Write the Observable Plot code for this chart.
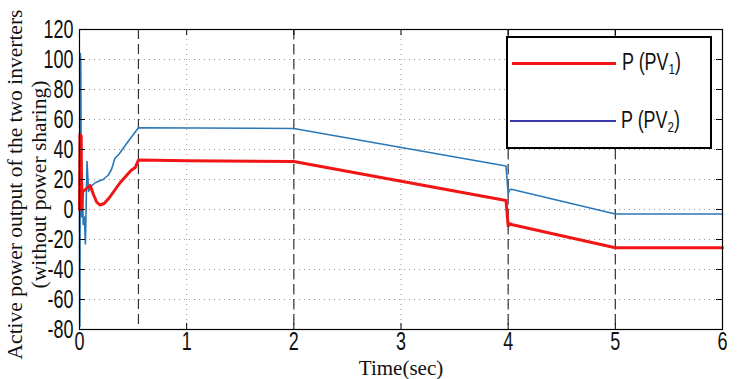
<!DOCTYPE html>
<html><head><meta charset="utf-8">
<script src="https://cdn.jsdelivr.net/npm/d3@7"></script>
<script src="https://cdn.jsdelivr.net/npm/@observablehq/plot@0.6"></script>
<style>
body{margin:0;background:#fff;}
#wrap{position:relative;width:741px;height:379px;overflow:hidden;}
#legend{position:absolute;left:506px;top:36px;width:202px;height:109px;border:2.5px solid #000;background:#fff;font-family:"Liberation Sans",Arial,sans-serif;font-size:23px;color:#111;}
.sw{position:absolute;}
.lt{position:absolute;line-height:1;white-space:nowrap;transform:scaleX(0.78);transform-origin:0 50%;}
.lt sub{font-size:0.65em;vertical-align:-0.25em;}
</style></head><body><div id="wrap"></div>
<script>
// P(PV1) – red series
const redT = [0, 0.004, 0.008, 0.012, 0.016, 0.02, 0.03, 0.05, 0.08, 0.1, 0.13, 0.16, 0.19, 0.23, 0.28, 0.33, 0.38, 0.43, 0.48, 0.52, 0.55, 1.0, 2.0, 3.98, 4.0, 4.02, 4.03, 5.0, 6.0];
const redV = [0, 50, 48, 2, 49, 0, 12, 13, 15, 16, 10, 5, 3, 4, 8, 13, 18, 22, 26, 28, 33, 32.5, 32, 6, -11, -9.5, -10, -25.5, -25.5];
// P(PV2) – blue series
const blueT = [0, 0.003, 0.008, 0.012, 0.016, 0.02, 0.025, 0.035, 0.045, 0.055, 0.07, 0.085, 0.1, 0.15, 0.22, 0.27, 0.3, 0.33, 0.37, 0.45, 0.55, 2.0, 3.98, 4.0, 4.01, 4.03, 5.0, 6.0];
const blueV = [0, -78, 104, 98, 20, -5, 25, -10, -5, -23, 32, 12, 15, 18, 20, 23, 27, 34, 37, 45, 54.5, 54, 29, 10, 13, 13.5, -3, -3];
const xTicks = [0, 1, 2, 3, 4, 5, 6];
const yTicks = [-80, -60, -40, -20, 0, 20, 40, 60, 80, 100, 120];
const eventTimes = [0.55, 2, 4, 5];
const xLabel = "Time(sec)";
const yLabel = "Active power output of the two inverters\n(without power sharing)";

const red = redT.map((t, i) => ({t, v: redV[i]}));
const blue = blueT.map((t, i) => ({t, v: blueV[i]}));

const W = 741, H = 379, mL = 79, mR = 19, mT = 29, mB = 50;
const pw = W - mL - mR, ph = H - mT - mB;
const tickFont = '"Liberation Sans",Arial,sans-serif';
const serif = '"Liberation Serif","Times New Roman",serif';

const chart = Plot.plot({
  width: W, height: H,
  marginLeft: mL, marginRight: mR, marginTop: mT, marginBottom: mB,
  style: {background: "white", fontFamily: tickFont, fontSize: "25px", color: "#111", overflow: "visible"},
  x: {domain: [0, 6], ticks: xTicks, tickFormat: d => String(d), tickSize: 0, tickPadding: 3, label: null},
  y: {domain: [-80, 120], ticks: yTicks, tickFormat: d => String(d), tickSize: 0, tickPadding: 6, label: null},
  marks: [
    Plot.ruleX(xTicks, {x: d => d, stroke: "#999", strokeDasharray: "1,4"}),
    Plot.ruleY(yTicks, {y: d => d, stroke: "#999", strokeDasharray: "1,4"}),
    Plot.ruleX(eventTimes, {x: d => d, stroke: "#333", strokeWidth: 1.2, strokeDasharray: "10,5"}),
    Plot.line(blue, {x: "t", y: "v", stroke: "#2a78b8", strokeWidth: 1.6}),
    Plot.line(red, {x: "t", y: "v", stroke: "#f21515", strokeWidth: 3}),
    Plot.frame({stroke: "#000", strokeWidth: 1.2}),
    Plot.tickX(xTicks, {x: d => d, insetTop: ph - 6, stroke: "#000"}),
    Plot.tickX(xTicks, {x: d => d, insetBottom: ph - 6, stroke: "#000"}),
    Plot.tickY(yTicks, {y: d => d, insetRight: pw - 6, stroke: "#000"}),
    Plot.tickY(yTicks, {y: d => d, insetLeft: pw - 6, stroke: "#000"}),
    Plot.text([xLabel], {frameAnchor: "bottom", dy: 45, fontFamily: serif, fontSize: 21, fill: "#111"}),
    Plot.text([yLabel], {frameAnchor: "left", textAnchor: "middle", rotate: -90, dx: -53, dy: 5, fontFamily: serif, fontSize: 21.5, lineHeight: 1.1, fill: "#111"})
  ]
});
const wrap = document.getElementById("wrap");
wrap.appendChild(chart);

// condense tick labels horizontally (the reference uses a narrow face)
d3.select(chart).selectAll('g[aria-label="x-axis tick label"] text, g[aria-label="y-axis tick label"] text')
  .attr("transform", function() { return (this.getAttribute("transform") || "") + " scale(0.72,1)"; });

const lg = document.createElement("div");
lg.id = "legend";
lg.innerHTML = `
  <div class="sw" style="left:4px;top:24px;width:104px;height:3px;background:#f21515"></div>
  <div class="lt" style="left:114px;top:13px">P (PV<sub>1</sub>)</div>
  <div class="sw" style="left:2px;top:82px;width:106px;height:2px;background:#3a3aae"></div>
  <div class="lt" style="left:113px;top:71px">P (PV<sub>2</sub>)</div>`;
wrap.appendChild(lg);
</script>
</body></html>
